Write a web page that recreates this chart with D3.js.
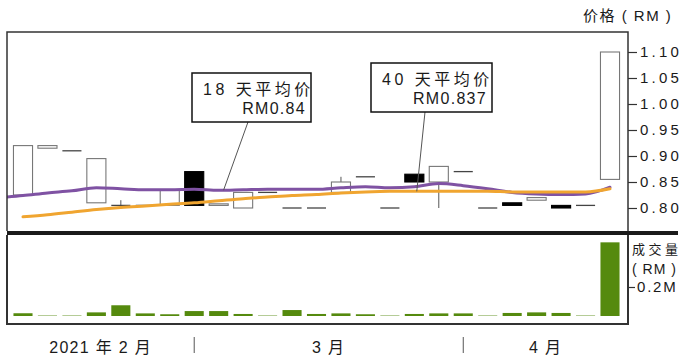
<!DOCTYPE html>
<html>
<head>
<meta charset="utf-8">
<script src="https://cdn.jsdelivr.net/npm/d3@7"></script>
<style>
  body { margin: 0; background: #fff; }
  svg text { font-family: "Liberation Sans", Arial, "Noto Sans CJK SC", sans-serif; fill: #1a1a1a; }
</style>
</head>
<body>
<svg id="chart" width="690" height="358"></svg>
<script>
// daily prices (RM), one entry per trading day shown
var openP  = [0.825, 0.915, 0.91, 0.81, 0.805, 0.805, 0.805, 0.87, 0.805, 0.80, 0.83, 0.80, 0.80,
              0.83, 0.86, 0.80, 0.865, 0.85, 0.87, 0.80, 0.81, 0.815, 0.805, 0.805, 0.855];
var closeP = [0.92, 0.92, 0.91, 0.895, 0.805, 0.805, 0.835, 0.805, 0.808, 0.83, 0.83, 0.80, 0.80,
              0.85, 0.86, 0.80, 0.85, 0.88, 0.87, 0.80, 0.805, 0.82, 0.80, 0.805, 1.10];
var highP  = [0.92, 0.92, 0.91, 0.895, 0.815, 0.805, 0.835, 0.87, 0.808, 0.83, 0.83, 0.80, 0.80,
              0.86, 0.86, 0.80, 0.865, 0.88, 0.87, 0.80, 0.81, 0.82, 0.805, 0.805, 1.10];
var lowP   = [0.825, 0.915, 0.91, 0.81, 0.805, 0.805, 0.805, 0.805, 0.805, 0.80, 0.83, 0.80, 0.80,
              0.83, 0.86, 0.80, 0.85, 0.80, 0.87, 0.80, 0.805, 0.815, 0.80, 0.805, 0.855];
// traded value, RM million
var volume = [0.019, 0.003, 0.003, 0.025, 0.074, 0.018, 0.012, 0.034, 0.034, 0.014, 0.003, 0.041, 0.014,
              0.018, 0.012, 0.003, 0.014, 0.018, 0.018, 0.003, 0.021, 0.025, 0.021, 0.003, 0.508];
// 18 day average starts one day before the first candle
var ma18 = [0.820, 0.824, 0.829, 0.833, 0.839, 0.837, 0.835, 0.835, 0.836, 0.834, 0.835, 0.836, 0.836, 0.836,
            0.839, 0.841, 0.839, 0.841, 0.847, 0.843, 0.837, 0.830, 0.827, 0.826, 0.827, 0.840];
var ma40 = [0.783, 0.787, 0.792, 0.797, 0.801, 0.804, 0.807, 0.810, 0.814, 0.818, 0.821, 0.824, 0.826,
            0.829, 0.831, 0.832, 0.832, 0.832, 0.832, 0.832, 0.831, 0.831, 0.831, 0.831, 0.837];
var priceTicks = [0.80, 0.85, 0.90, 0.95, 1.00, 1.05, 1.10];
var volTicks = [0.2];
var months = ["2021 年 2 月", "3 月", "4 月"];
var monthBreaks = [7, 18];
var ma18Label = ["18 天平均价", "RM0.84"];
var ma40Label = ["40 天平均价", "RM0.837"];

var svg = d3.select("#chart");
// note: "top" is taken by window.top, so use other names
var fLeft = 7, fRight = 628, fTop = 32, priceBottom = 231, volTop = 235, volBottom = 324;

var x = d3.scaleLinear().domain([0, openP.length - 1]).range([23, 610]);
var step = x(1) - x(0);
var bodyW = step * 0.78;
var y = d3.scaleLinear().domain([0.80, 1.10]).range([208, 52]);
var vy = d3.scaleLinear().domain([0, 0.2]).range([316, 287]);

svg.append("clipPath").attr("id", "clipPrice")
  .append("rect").attr("x", fLeft).attr("y", fTop).attr("width", fRight - fLeft).attr("height", priceBottom - fTop);

// candles
var days = d3.range(openP.length);
var cg = svg.append("g");
days.forEach(function(i) {
  var o = openP[i], c = closeP[i], cx = x(i);
  var hi = Math.max(o, c), lo = Math.min(o, c);
  if (highP[i] > hi) {
    cg.append("line").attr("x1", cx).attr("x2", cx).attr("y1", y(highP[i])).attr("y2", y(hi))
      .attr("stroke", "#555").attr("stroke-width", 1);
  }
  if (lowP[i] < lo) {
    cg.append("line").attr("x1", cx).attr("x2", cx).attr("y1", y(lo)).attr("y2", y(lowP[i]))
      .attr("stroke", "#555").attr("stroke-width", 1);
  }
  if (o == c) {
    cg.append("line").attr("x1", cx - bodyW / 2).attr("x2", cx + bodyW / 2)
      .attr("y1", y(o)).attr("y2", y(o)).attr("stroke", "#444").attr("stroke-width", 1.3);
  } else {
    cg.append("rect").attr("x", cx - bodyW / 2).attr("width", bodyW)
      .attr("y", y(hi)).attr("height", y(lo) - y(hi))
      .attr("fill", c > o ? "#fff" : "#000")
      .attr("stroke", c > o ? "#777" : "#000").attr("stroke-width", 1.1);
  }
});

// moving averages
var line18 = d3.line().x(function(d, i) { return x(i - 1); }).y(function(d) { return y(d); }).curve(d3.curveMonotoneX);
var line40 = d3.line().x(function(d, i) { return x(i); }).y(function(d) { return y(d); }).curve(d3.curveMonotoneX);
svg.append("path").datum(ma18).attr("d", line18).attr("clip-path", "url(#clipPrice)")
  .attr("fill", "none").attr("stroke", "#7f52a3").attr("stroke-width", 3).attr("stroke-linecap", "round");
svg.append("path").datum(ma40).attr("d", line40).attr("clip-path", "url(#clipPrice)")
  .attr("fill", "none").attr("stroke", "#f0a530").attr("stroke-width", 3).attr("stroke-linecap", "round");

// volume bars
svg.append("g").selectAll("rect").data(volume).enter().append("rect")
  .attr("x", function(d, i) { return x(i) - bodyW / 2; })
  .attr("width", bodyW)
  .attr("y", function(d) { return vy(d); })
  .attr("height", function(d) { return vy(0) - vy(d); })
  .attr("fill", "#558a0e");

// frames
var frame = svg.append("g").attr("fill", "none").attr("stroke", "#333").attr("stroke-width", 1.5);
frame.append("path").attr("d", "M" + fLeft + "," + priceBottom + "V" + fTop + "H" + fRight + "V" + priceBottom);
frame.append("path").attr("d", "M" + fLeft + "," + volTop + "V" + volBottom + "H" + fRight + "V" + volTop).attr("stroke-width", 2);
svg.append("line").attr("x1", fLeft).attr("x2", 678).attr("y1", 233).attr("y2", 233)
  .attr("stroke", "#1a1a1a").attr("stroke-width", 4);

// right axes
var pAxis = svg.append("g").attr("transform", "translate(" + fRight + ",0)")
  .call(d3.axisRight(y).tickValues(priceTicks).tickFormat(d3.format(".2f")).tickSize(9).tickPadding(3));
pAxis.select(".domain").remove();
pAxis.selectAll("line").attr("stroke", "#333").attr("stroke-width", 1.2);
pAxis.selectAll("text").style("font-size", "15px").style("letter-spacing", "3.2px");

var vAxis = svg.append("g").attr("transform", "translate(" + fRight + ",0)")
  .call(d3.axisRight(vy).tickValues(volTicks).tickFormat(function(d) { return d + "M"; }).tickSize(7).tickPadding(2));
vAxis.select(".domain").remove();
vAxis.selectAll("line").attr("stroke", "#333").attr("stroke-width", 1.2);
vAxis.selectAll("text").style("font-size", "15px").style("letter-spacing", "1.8px");

svg.append("text").attr("x", 583).attr("y", 21).style("font-size", "15px").style("letter-spacing", "1.5px").text("价格 ( RM )");
svg.append("text").attr("x", 632).attr("y", 254).style("font-size", "13px").style("letter-spacing", "3.5px").text("成交量");
svg.append("text").attr("x", 632).attr("y", 274).style("font-size", "14px").style("letter-spacing", "1px").text("( RM )");

// month axis
var edges = [fLeft].concat(monthBreaks.map(function(b) { return x(b); })).concat([fRight]);
svg.append("g").selectAll("line").data(monthBreaks).enter().append("line")
  .attr("x1", function(d) { return x(d); }).attr("x2", function(d) { return x(d); })
  .attr("y1", 337).attr("y2", 353).attr("stroke", "#555").attr("stroke-width", 1);
svg.append("g").selectAll("text").data(months).enter().append("text")
  .attr("x", function(d, i) { return (edges[i] + edges[i + 1]) / 2; })
  .attr("y", 353).attr("text-anchor", "middle")
  .style("font-size", "16px").style("letter-spacing", "1.3px")
  .text(function(d) { return d; });

// annotations
function maAt(arr, offset, idx) {
  var k = idx + offset, i0 = Math.floor(k);
  return d3.interpolateNumber(arr[i0], arr[i0 + 1])(k - i0);
}
function callout(lines, bx, by, bw, bh, fromX, toIdx, arr, offset) {
  svg.append("line").attr("x1", fromX).attr("y1", by + bh)
    .attr("x2", x(toIdx)).attr("y2", y(maAt(arr, offset, toIdx)))
    .attr("stroke", "#555").attr("stroke-width", 1);
  svg.append("rect").attr("x", bx).attr("y", by).attr("width", bw).attr("height", bh)
    .attr("fill", "#fff").attr("stroke", "#111").attr("stroke-width", 1.5);
  svg.append("text").attr("x", bx + 11).attr("y", by + 22)
    .style("font-size", "16px").style("letter-spacing", "3.5px").text(lines[0]);
  svg.append("text").attr("x", bx + bw - 5).attr("y", by + 41).attr("text-anchor", "end")
    .style("font-size", "16px").style("letter-spacing", "1.3px").text(lines[1]);
}
callout(ma18Label, 192, 73, 119, 49, 248, 8.2, ma18, 1);
callout(ma40Label, 371, 63, 121, 49, 425, 16.1, ma40, 0);
</script>
</body>
</html>
